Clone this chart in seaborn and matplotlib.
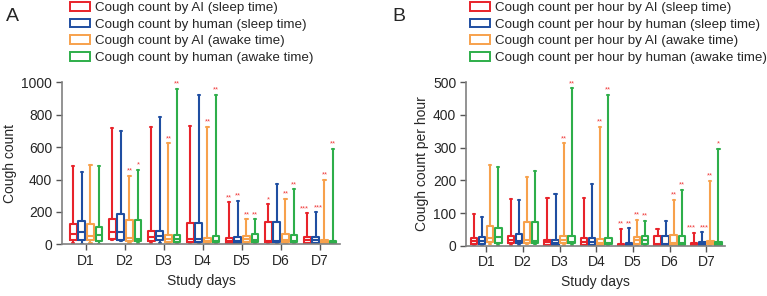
import pandas as pd
import numpy as np
import matplotlib
matplotlib.use('Agg')
import matplotlib.pyplot as plt
from matplotlib.patches import Rectangle
import seaborn as sns

sns.set_theme(style='white')
plt.rcParams['font.family'] = ['Liberation Sans', 'DejaVu Sans']

days = ['D1', 'D2', 'D3', 'D4', 'D5', 'D6', 'D7']

# five-number summaries per day: (min, q1, median, q3, max)
# panel A: cough count
a_ai_sleep = [(8, 27, 64, 123, 485), (25, 31, 74, 154, 716), (5, 22, 47, 82, 726),
              (3, 14, 35, 130, 730), (2, 10, 22, 37, 259), (3, 12, 22, 140, 247),
              (2, 10, 27, 47, 191)]
a_hu_sleep = [(3, 27, 78, 144, 448), (20, 27, 78, 185, 699), (5, 24, 51, 82, 787),
              (3, 14, 35, 130, 925), (2, 10, 22, 43, 267), (3, 12, 20, 140, 370),
              (2, 10, 25, 45, 197)]
a_ai_awake = [(5, 27, 51, 123, 491), (8, 22, 39, 148, 421), (3, 16, 31, 57, 623),
              (2, 14, 22, 39, 726), (3, 16, 31, 53, 154), (3, 14, 27, 62, 281),
              (2, 10, 16, 29, 397)]
a_hu_awake = [(3, 20, 57, 109, 481), (5, 18, 33, 148, 458), (3, 16, 31, 57, 962),
              (2, 12, 18, 49, 921), (3, 14, 27, 66, 154), (3, 12, 22, 60, 339),
              (0, 6, 10, 20, 590)]

# panel B: cough count per hour
b_ai_sleep = [(2, 5, 14, 24, 97), (3, 9, 18, 31, 144), (1, 3, 10, 17, 145),
              (1, 3, 12, 25, 147), (0, 1, 3, 6, 51), (1, 3, 5, 29, 50),
              (0, 1, 4, 9, 38)]
b_hu_sleep = [(2, 5, 15, 28, 89), (3, 8, 15, 37, 140), (1, 3, 9, 17, 158),
              (1, 3, 12, 25, 188), (0, 1, 3, 8, 53), (1, 3, 5, 29, 75),
              (0, 1, 5, 10, 41)]
b_ai_awake = [(5, 12, 25, 61, 247), (4, 9, 17, 73, 209), (3, 7, 17, 30, 313),
              (1, 3, 8, 20, 364), (2, 5, 16, 26, 78), (1, 3, 9, 32, 140),
              (1, 4, 8, 14, 199)]
b_hu_awake = [(3, 7, 27, 55, 240), (4, 9, 14, 73, 229), (3, 7, 12, 30, 481),
              (1, 5, 9, 24, 461), (2, 4, 17, 31, 77), (1, 3, 9, 30, 170),
              (0, 2, 6, 10, 296)]

# significance marks (one per series per day, '' = none)
a_stars = [['', '', '', '', '**', '*', '***'],
           ['', '', '', '', '**', '', '***'],
           ['', '**', '**', '**', '**', '**', '**'],
           ['', '*', '**', '**', '**', '**', '**']]
b_stars = [['', '', '', '', '**', '', '***'],
           ['', '', '', '', '**', '', '***'],
           ['', '', '**', '**', '**', '**', '**'],
           ['', '', '**', '**', '**', '**', '*']]

labels_a = ['Cough count by AI (sleep time)', 'Cough count by human (sleep time)',
            'Cough count by AI (awake time)', 'Cough count by human (awake time)']
labels_b = ['Cough count per hour by AI (sleep time)',
            'Cough count per hour by human (sleep time)',
            'Cough count per hour by AI (awake time)',
            'Cough count per hour by human (awake time)']
colors = ['#e8232a', '#1f4ea1', '#f7a14c', '#2eae4a']


def long_table(series, labels):
    rows = []
    for lab, summ in zip(labels, series):
        for d, five in zip(days, summ):
            for v in five:
                rows.append((d, lab, v))
    return pd.DataFrame(rows, columns=['day', 'series', 'value'])


fig = plt.figure(figsize=(7.67, 2.96), dpi=100)
axA = fig.add_axes([0.0808, 0.1747, 0.3625, 0.547])
axB = fig.add_axes([0.6076, 0.170, 0.3377, 0.552])

panels = [
    (axA, [a_ai_sleep, a_hu_sleep, a_ai_awake, a_hu_awake], labels_a, a_stars,
     'Cough count', (0, 1000), np.arange(0, 1001, 200), (-0.62, 6.51), 70, 'A', 0.008),
    (axB, [b_ai_sleep, b_hu_sleep, b_ai_awake, b_hu_awake], labels_b, b_stars,
     'Cough count per hour', (0, 500), np.arange(0, 501, 100), (-0.55, 6.51), 470, 'B', 0.511),
]

for ax, series, labels, stars, ylab, ylim, yticks, xlim, legx, letter, lx in panels:
    df = long_table(series, labels)
    sns.boxplot(data=df, x='day', y='value', hue='series', hue_order=labels,
                palette=colors, fill=False, whis=(0, 100), width=0.88, gap=0.2,
                linewidth=1.5, legend=False, ax=ax)
    # shrink the whisker caps to small ticks
    for ln in ax.lines:
        xd, yd = np.asarray(ln.get_xdata(), float), np.asarray(ln.get_ydata(), float)
        if len(xd) == 2 and yd[0] == yd[1] and abs(xd[1] - xd[0]) < 0.15:
            c = xd.mean()
            ln.set_xdata([c - 0.03, c + 0.03])
    for h, st in enumerate(stars):
        for i, s in enumerate(st):
            if s:
                dx = 0
                if s == '***':
                    dx = -1.8 if h == 0 else 1.8
                ax.annotate(s, (i + (h - 1.5) * 0.22, series[h][i][4]),
                            xytext=(dx, 1), textcoords='offset points',
                            ha='center', va='bottom', color='#f03a3a', fontsize=5.5)
    ax.set_ylim(*ylim)
    ax.set_xlim(*xlim)
    ax.set_yticks(yticks)
    ax.set_xlabel('Study days', fontsize=10, labelpad=4)
    ax.set_ylabel(ylab, fontsize=10, labelpad=3)
    ax.tick_params(axis='both', labelsize=10, length=4, width=1, color='#555555',
                   direction='out', bottom=True, left=True, pad=3)
    for sp in ['top', 'right']:
        ax.spines[sp].set_visible(False)
    for sp in ['left', 'bottom']:
        ax.spines[sp].set_color('#808080')
        ax.spines[sp].set_linewidth(1.2)
    ax.set_facecolor('none')

    handles = [Rectangle((0, 0), 1, 1, facecolor='white', edgecolor=c, linewidth=1.4)
               for c in colors]
    fig.legend(handles, labels, loc='upper left', bbox_to_anchor=(legx / 767, 1 - 2 / 296),
               frameon=False, fontsize=9.6, borderpad=0, labelspacing=0.33,
               handlelength=1.5, handleheight=0.65, handletextpad=0.35, borderaxespad=0)
    fig.text(lx, 0.972, letter, fontsize=14, va='top', ha='left')

fig.savefig('out.png', dpi=100)
